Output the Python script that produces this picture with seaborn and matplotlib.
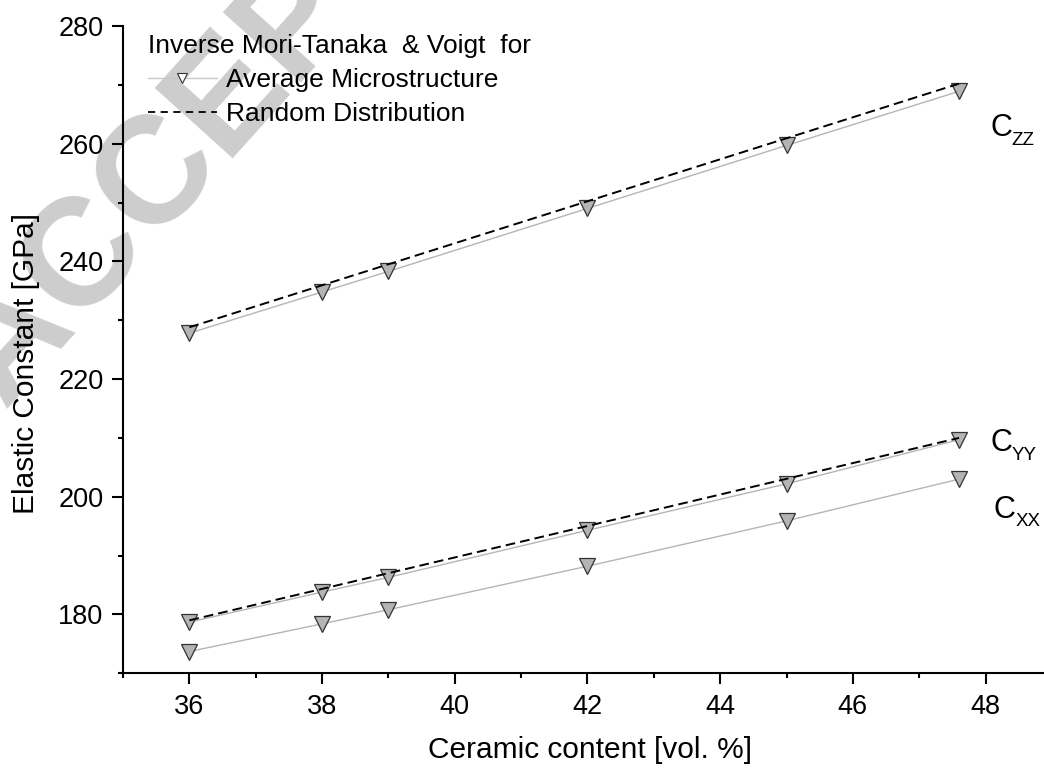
import matplotlib
matplotlib.use("Agg")
import matplotlib.pyplot as plt
import seaborn as sns
import pandas as pd
from matplotlib.ticker import MultipleLocator
from matplotlib.lines import Line2D

# ---- data ----
x_vals = [36, 38, 39, 42, 45, 47.6]
czz_avg = [227.8, 234.8, 238.3, 249.0, 259.7, 268.9]
cyy_avg = [178.7, 183.8, 186.3, 194.3, 202.2, 209.7]
cxx_avg = [173.7, 178.4, 180.8, 188.2, 195.9, 203.0]
x_rand = [36, 47.6]
czz_rand = [228.8, 270.2]
cyy_rand = [179.0, 210.0]
curve_main = ["C", "C", "C"]
curve_subs = ["ZZ", "YY", "XX"]
title_text = "Inverse Mori-Tanaka  & Voigt  for"
legend_labels = ["Average Microstructure", "Random Distribution"]
xlabel = "Ceramic content [vol. %]"
ylabel = "Elastic Constant [GPa]"
watermark = "ACCEPTED MANUSCRIPT"

sns.set_style("ticks")
plt.rcParams["font.family"] = ["Liberation Sans", "DejaVu Sans"]
for k in ["text.color", "axes.labelcolor", "xtick.color", "ytick.color", "axes.edgecolor"]:
    plt.rcParams[k] = "black"

W, H = 1044, 769
fig = plt.figure(figsize=(W / 100, H / 100), dpi=100)
ax = fig.add_axes([123 / W, 1 - 673.3 / H, 1 - 123 / W, (673.3 - 26) / H])

# watermark (behind everything)
fig.text(-24 / W, 1 - 385 / H, watermark, rotation=48, fontsize=110,
         fontweight="bold", color="#cdcdcd", ha="left", va="center",
         zorder=-5, rotation_mode="anchor")
ax.set_facecolor("none")

avg_df = pd.DataFrame({"x": x_vals * 3,
                       "y": czz_avg + cyy_avg + cxx_avg,
                       "s": ["zz"] * 6 + ["yy"] * 6 + ["xx"] * 6})
rand_df = pd.DataFrame({"x": x_rand * 2,
                        "y": czz_rand + cyy_rand,
                        "s": ["zz"] * 2 + ["yy"] * 2})

for key in ["zz", "yy"]:
    sub = rand_df[rand_df.s == key]
    sns.lineplot(data=sub, x="x", y="y", ax=ax, color="black", lw=1.4,
                 linestyle=(0, (5, 2.6)), legend=False, zorder=3)
for key in ["zz", "yy", "xx"]:
    sub = avg_df[avg_df.s == key]
    sns.lineplot(data=sub, x="x", y="y", ax=ax, color="#b5b5b5", lw=1.0,
                 marker="v", markersize=11, markerfacecolor="#b4b4b4",
                 markeredgecolor="#333333", markeredgewidth=0.9,
                 legend=False, zorder=2)

ax.set_xlim(35, 48.88)
ax.set_ylim(170, 280)
ax.xaxis.set_major_locator(MultipleLocator(2))
ax.xaxis.set_minor_locator(MultipleLocator(1))
ax.set_yticks([180, 200, 220, 240, 260, 280])
ax.yaxis.set_minor_locator(MultipleLocator(10))
ax.tick_params(which="major", length=8, width=1.5, labelsize=19.5, direction="out")
ax.tick_params(axis="y", which="major", pad=6)
ax.tick_params(axis="x", which="major", pad=7)
ax.tick_params(which="minor", length=3.8, width=1.5, direction="out")
for s in ["top", "right"]:
    ax.spines[s].set_visible(False)
for s in ["left", "bottom"]:
    ax.spines[s].set_linewidth(1.5)

ax.set_xlabel(xlabel, fontsize=21.5)
ax.xaxis.set_label_coords((590 - 123) / (W - 123), (673.3 - 736) / 647.3)
ax.set_ylabel(ylabel, fontsize=21.5)
ax.yaxis.set_label_coords((40 - 123) / (W - 123), (673.3 - 364) / 647.3)

label_pos = [(48.07, 262.6), (48.07, 209.1), (48.12, 197.8)]
for m, s, (lx, ly) in zip(curve_main, curve_subs, label_pos):
    ax.text(lx, ly, m, fontsize=22, va="center", ha="left")
    ax.annotate(s, xy=(lx, ly), xytext=(15.5, -8.5), textcoords="offset points",
                fontsize=13.5, va="center", ha="left")

handles = [Line2D([], [], color="#c8c8c8", lw=1.0, marker="v", markersize=7,
                  markerfacecolor="white", markeredgecolor="#333333", markeredgewidth=0.8),
           Line2D([], [], color="black", lw=1.3, linestyle=(0, (4, 3)))]
leg = fig.legend(handles, legend_labels, title=title_text, loc="upper left",
                 bbox_to_anchor=(148 / W, 1 - 34 / H), frameon=False, fontsize=19,
                 title_fontsize=19, handlelength=2.6, handletextpad=0.35,
                 labelspacing=0.38, borderaxespad=0, borderpad=0, alignment="left")

fig.savefig("out.png", dpi=100)
